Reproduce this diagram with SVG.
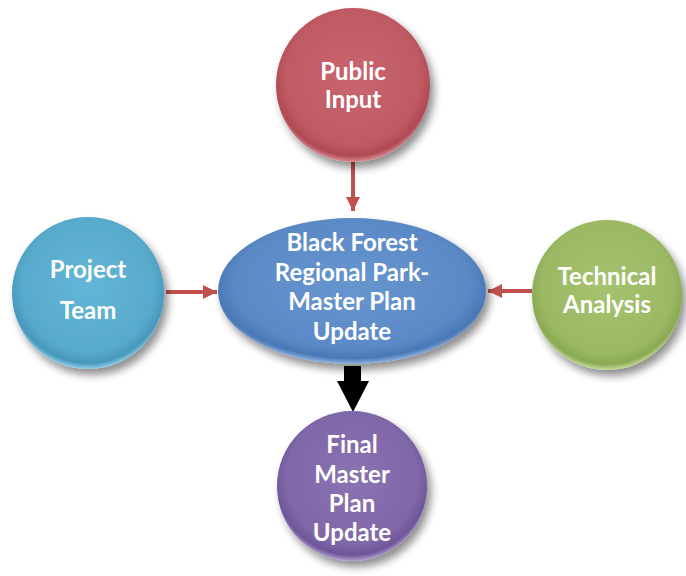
<svg xmlns="http://www.w3.org/2000/svg" width="686" height="576" viewBox="0 0 686 576">
<defs>
  <filter id="shadow" x="-30%" y="-30%" width="160%" height="160%">
    <feGaussianBlur in="SourceAlpha" stdDeviation="4"/>
    <feOffset dx="4" dy="6" result="b"/>
    <feComponentTransfer><feFuncA type="linear" slope="0.45"/></feComponentTransfer>
    <feMerge><feMergeNode/><feMergeNode in="SourceGraphic"/></feMerge>
  </filter>
  <radialGradient id="gRed" cx="50%" cy="45%" r="55%">
    <stop offset="0" stop-color="#c9666f"/>
    <stop offset="0.8" stop-color="#bf5a63"/>
    <stop offset="0.93" stop-color="#b04a55"/>
    <stop offset="1" stop-color="#d88e95"/>
  </radialGradient>
  <radialGradient id="gBlue" cx="50%" cy="45%" r="55%">
    <stop offset="0" stop-color="#6796cf"/>
    <stop offset="0.8" stop-color="#5a89c6"/>
    <stop offset="0.93" stop-color="#4a78b6"/>
    <stop offset="1" stop-color="#8fb3e0"/>
  </radialGradient>
  <radialGradient id="gCyan" cx="50%" cy="45%" r="55%">
    <stop offset="0" stop-color="#64b6d6"/>
    <stop offset="0.8" stop-color="#58aacb"/>
    <stop offset="0.93" stop-color="#4798bc"/>
    <stop offset="1" stop-color="#8fd0ea"/>
  </radialGradient>
  <radialGradient id="gGreen" cx="50%" cy="45%" r="55%">
    <stop offset="0" stop-color="#a5c26e"/>
    <stop offset="0.8" stop-color="#9bb964"/>
    <stop offset="0.93" stop-color="#8aa954"/>
    <stop offset="1" stop-color="#c4dc98"/>
  </radialGradient>
  <radialGradient id="gPurple" cx="50%" cy="45%" r="55%">
    <stop offset="0" stop-color="#8b73b2"/>
    <stop offset="0.8" stop-color="#7f67a8"/>
    <stop offset="0.93" stop-color="#6e5698"/>
    <stop offset="1" stop-color="#b09ed2"/>
  </radialGradient>
  <marker id="redHead" viewBox="0 0 10 10" refX="10" refY="5" markerWidth="3.5" markerHeight="3.5" orient="auto" markerUnits="strokeWidth">
    <path d="M0,0 L10,5 L0,10 z" fill="#c0504d"/>
  </marker>
</defs>
<style>
  .lbl { font-family: Lato, "Open Sans", "Liberation Sans", sans-serif; font-weight: 700; font-size: 24px; fill: #ffffff; text-anchor: middle; }
  .red { stroke: #c0504d; stroke-width: 4; fill: none; }
</style>
<g id="connectors">
  <line class="red" x1="353" y1="162" x2="353" y2="211" marker-end="url(#redHead)"/>
  <line class="red" x1="166" y1="292" x2="217" y2="292" marker-end="url(#redHead)"/>
  <line class="red" x1="532" y1="291" x2="488" y2="291" marker-end="url(#redHead)"/>
  <path d="M344,366 L361,366 L361,381 L369,381 L353,412 L337,381 L344,381 z" fill="#000000"/>
</g>
<g id="public-input">
  <circle cx="353" cy="85" r="77" fill="url(#gRed)" filter="url(#shadow)"/>
  <text class="lbl" x="353" y="80">Public</text>
  <text class="lbl" x="353" y="108">Input</text>
</g>
<g id="center">
  <ellipse cx="352" cy="291" rx="134" ry="73" fill="url(#gBlue)" filter="url(#shadow)"/>
  <text class="lbl" x="352" y="251">Black Forest</text>
  <text class="lbl" x="352" y="281">Regional Park-</text>
  <text class="lbl" x="352" y="310">Master Plan</text>
  <text class="lbl" x="352" y="340">Update</text>
</g>
<g id="project-team">
  <circle cx="88" cy="293" r="76" fill="url(#gCyan)" filter="url(#shadow)"/>
  <text class="lbl" x="88" y="278">Project</text>
  <text class="lbl" x="88" y="319">Team</text>
</g>
<g id="technical-analysis">
  <circle cx="607" cy="295" r="75" fill="url(#gGreen)" filter="url(#shadow)"/>
  <text class="lbl" x="607" y="285">Technical</text>
  <text class="lbl" x="607" y="313">Analysis</text>
</g>
<g id="final">
  <circle cx="352" cy="486" r="75" fill="url(#gPurple)" filter="url(#shadow)"/>
  <text class="lbl" x="352" y="453">Final</text>
  <text class="lbl" x="352" y="483">Master</text>
  <text class="lbl" x="352" y="512">Plan</text>
  <text class="lbl" x="352" y="541">Update</text>
</g>
</svg>
